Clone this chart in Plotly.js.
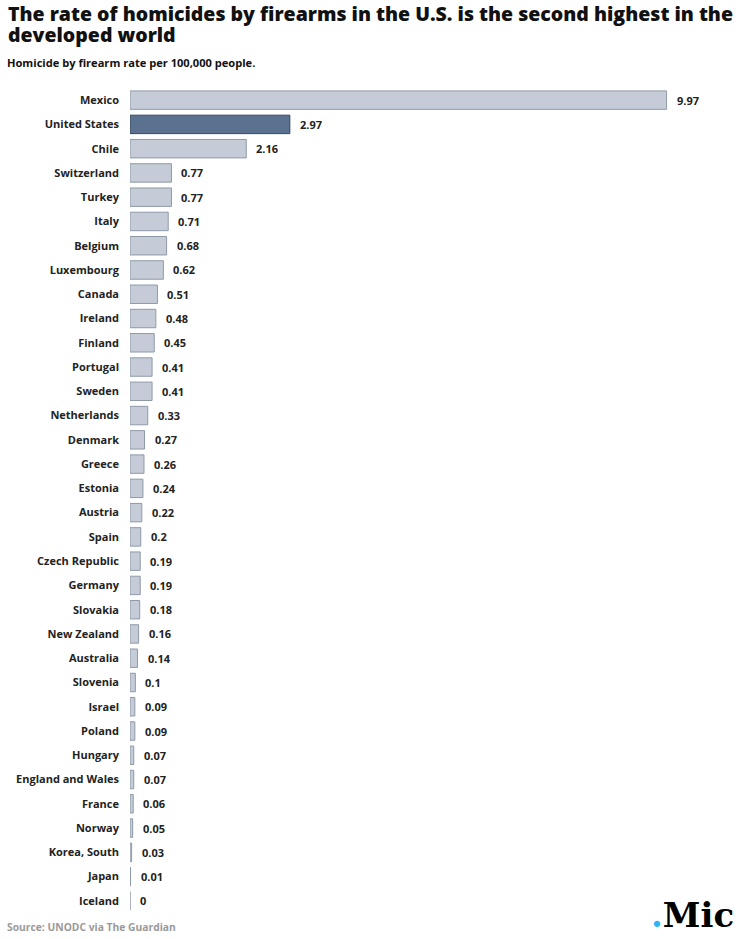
<!DOCTYPE html>
<html><head><meta charset="utf-8">
<script src="https://cdn.plot.ly/plotly-3.0.1.min.js"></script>
<style>body{margin:0;background:#fff}#c{width:743px;height:939px}</style>
</head><body><div id="c"></div>
<script>
const countries = ["Mexico","United States","Chile","Switzerland","Turkey","Italy","Belgium","Luxembourg","Canada","Ireland","Finland","Portugal","Sweden","Netherlands","Denmark","Greece","Estonia","Austria","Spain","Czech Republic","Germany","Slovakia","New Zealand","Australia","Slovenia","Israel","Poland","Hungary","England and Wales","France","Norway","Korea, South","Japan","Iceland"];
const rates = [9.97,2.97,2.16,0.77,0.77,0.71,0.68,0.62,0.51,0.48,0.45,0.41,0.41,0.33,0.27,0.26,0.24,0.22,0.2,0.19,0.19,0.18,0.16,0.14,0.1,0.09,0.09,0.07,0.07,0.06,0.05,0.03,0.01,0];
const labels = ["9.97","2.97","2.16","0.77","0.77","0.71","0.68","0.62","0.51","0.48","0.45","0.41","0.41","0.33","0.27","0.26","0.24","0.22","0.2","0.19","0.19","0.18","0.16","0.14","0.1","0.09","0.09","0.07","0.07","0.06","0.05","0.03","0.01","0"];
const highlight = "United States";

const F = "'Open Sans', sans-serif";
const fill = countries.map(c => c === highlight ? "#5b7190" : "#c5ccd7");
const edge = countries.map(c => c === highlight ? "#34475f" : "#8e99a8");

const trace = {
  type: "bar", orientation: "h",
  x: rates, y: countries,
  marker: {color: fill, line: {color: edge, width: 1}},
  width: 0.76, hoverinfo: "none"
};

const ann = countries.map((c, i) => ({
  x: rates[i], y: c, xref: "x", yref: "y", text: labels[i],
  showarrow: false, xanchor: "left", xshift: 8,
  font: {family: F, size: 11, color: "#222", weight: 700}
}));
const titleFont = {family: F, size: 19.5, color: "#111", weight: 800};
ann.push({xref: "paper", yref: "paper", x: -124/592, y: 1 + 75/825, xanchor: "left", yanchor: "middle",
  showarrow: false,
  text: "The rate of homicides by firearms in the U.S. is the second highest in the",
  font: titleFont});
ann.push({xref: "paper", yref: "paper", x: -124/592, y: 1 + 53.5/825, xanchor: "left", yanchor: "middle",
  showarrow: false, text: "developed world", font: titleFont});
ann.push({xref: "paper", yref: "paper", x: -125/592, y: 1 + 26/825, xanchor: "left", yanchor: "middle",
  showarrow: false, text: "Homicide by firearm rate per 100,000 people.",
  font: {family: F, size: 11.1, color: "#111", weight: 700}});
ann.push({xref: "paper", yref: "paper", x: -125/592, y: -14/825, xanchor: "left", yanchor: "middle",
  showarrow: false, text: "Source: UNODC via The Guardian",
  font: {family: F, size: 10.3, color: "#9a9a9a", weight: 700}});
ann.push({xref: "paper", yref: "paper", x: 1 + 14/592, y: -2/825, xanchor: "right", yanchor: "middle",
  showarrow: false, text: "<span style='color:#29b6f6'>.</span>Mic",
  font: {family: "'DejaVu Serif', serif", size: 34, color: "#000", weight: 900}});

const layout = {
  width: 743, height: 939,
  margin: {l: 130, r: 21, t: 88, b: 26},
  paper_bgcolor: "#fff", plot_bgcolor: "#fff",
  showlegend: false,
  xaxis: {range: [0, 11], visible: false, fixedrange: true},
  yaxis: {type: "category", autorange: "reversed", showgrid: false, zeroline: false, showline: false,
    ticks: "", ticklabelstandoff: 10, tickfont: {family: F, size: 11, color: "#222", weight: 700}},
  annotations: ann, bargap: 0.24
};
Plotly.newPlot("c", [trace], layout, {displayModeBar: false, staticPlot: true});
</script></body></html>
